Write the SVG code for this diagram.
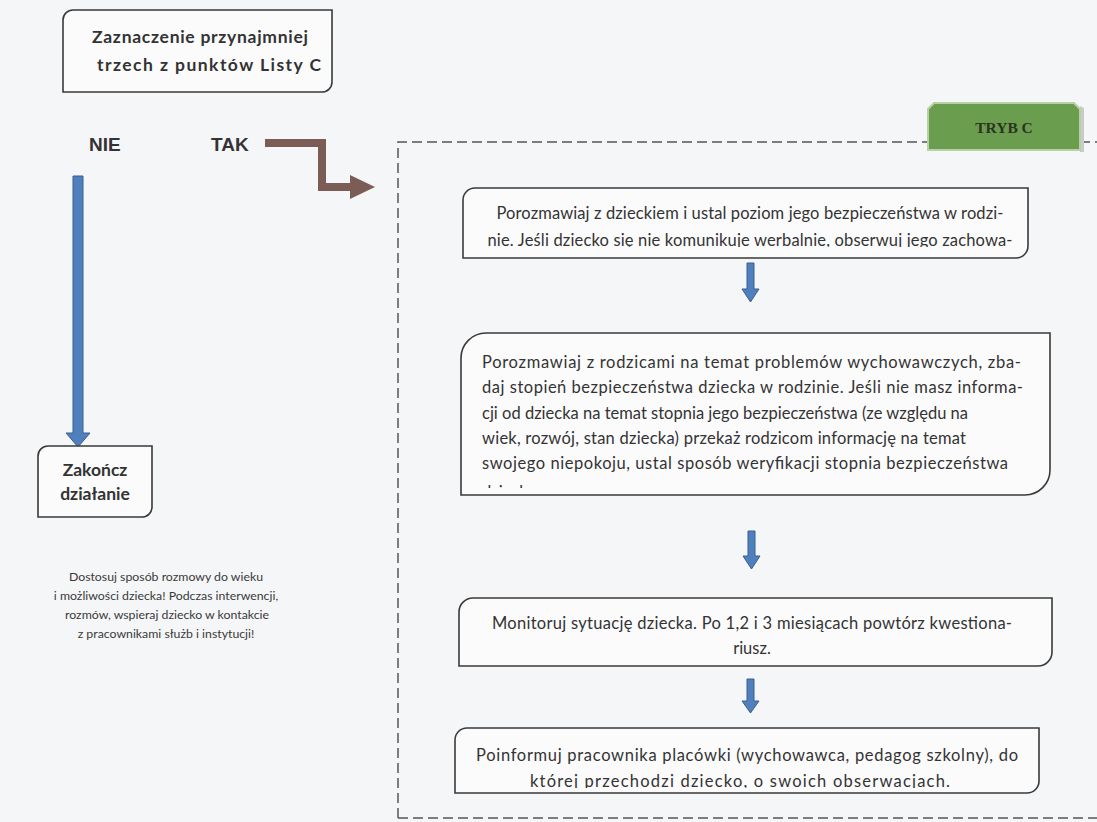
<svg xmlns="http://www.w3.org/2000/svg" width="1097" height="822" viewBox="0 0 1097 822">
<style>
.bg{fill:#f5f6f8}
.box{fill:#fbfbfc;stroke:#3a3a3a;stroke-width:1.6}
.t{font-family:Lato,"Open Sans","Liberation Sans",sans-serif;fill:#333;font-size:16.5px}
.tb{font-family:Lato,"Open Sans","Liberation Sans",sans-serif;fill:#333;font-size:17.5px;font-weight:bold}
.lbl{font-family:"Liberation Sans",Arial,sans-serif;fill:#333;font-size:19px;font-weight:bold}
.note{font-family:Lato,"Open Sans","Liberation Sans",sans-serif;fill:#3a3a3a;font-size:12.3px}
.dash{fill:none;stroke:#555;stroke-width:1.5;stroke-dasharray:10 5}
.blue{fill:#4f7fbd;stroke:#3b5f8e;stroke-width:1}
</style>
<defs>
<clipPath id="c1"><rect x="455" y="180" width="600" height="67"/></clipPath>
<clipPath id="c2"><rect x="455" y="330" width="600" height="158"/></clipPath>
<clipPath id="c4"><rect x="450" y="725" width="600" height="63"/></clipPath>
</defs>
<rect class="bg" x="0" y="0" width="1097" height="822"/>

<g id="tryb-frame">
<path class="dash" d="M398 818 V142 H928 M1080 142 H1097 M398 818 H1097"/>
</g>

<g id="tryb-c">
<path d="M932 152 H1084 V108 L1080 106 V152 Z" fill="#c9cbc8"/>
<path d="M934 103 H1074 L1080 109 V150 H928 V109 Z" fill="#6a9d4d" stroke="#b7d0a8" stroke-width="2"/>
<text x="1004" y="133" text-anchor="middle" font-family="'Liberation Serif','Times New Roman',serif" font-weight="bold" font-size="15.5" fill="#2a3423">TRYB C</text>
</g>

<g id="start">
<path class="box" d="M73 10 H332 V82 A10 10 0 0 1 322 92 H63 V20 A10 10 0 0 1 73 10 Z"/>
<text class="tb" x="200" y="43" text-anchor="middle" textLength="216">Zaznaczenie przynajmniej</text>
<text class="tb" x="209" y="71" text-anchor="middle" textLength="224">trzech z punktów Listy C</text>
</g>

<g id="labels">
<text class="lbl" x="89" y="151">NIE</text>
<text class="lbl" x="211" y="151">TAK</text>
</g>

<g id="connectors">
<path d="M265 143 H322 V187 H352" fill="none" stroke="#7b5d56" stroke-width="8"/>
<polygon points="350,175 375,187 350,199" fill="#7b5d56"/>
<path class="blue" d="M73 176 H83 V433 H90 L78 447 L66 433 H73 Z"/>
<path class="blue" d="M747 263 H754 V289 H759 L750.5 302 L742 289 H747 Z"/>
<path class="blue" d="M748 531 H755 V556 H760 L751.5 569 L743 556 H748 Z"/>
<path class="blue" d="M747 679 H754 V701 H759 L750.5 713 L742 701 H747 Z"/>
</g>

<g id="end">
<path class="box" d="M48 446 H152 V507 A10 10 0 0 1 142 517 H38 V456 A10 10 0 0 1 48 446 Z"/>
<text class="tb" x="95" y="476" text-anchor="middle" font-size="15">Zakończ</text>
<text class="tb" x="95" y="500" text-anchor="middle" font-size="15">działanie</text>
</g>

<g id="note">
<text class="note" x="166" y="581" text-anchor="middle">Dostosuj sposób rozmowy do wieku</text>
<text class="note" x="166" y="600" text-anchor="middle">i możliwości dziecka! Podczas interwencji,</text>
<text class="note" x="167" y="619" text-anchor="middle">rozmów, wspieraj dziecko w kontakcie</text>
<text class="note" x="166" y="638" text-anchor="middle">z pracownikami służb i instytucji!</text>
</g>

<g id="step1">
<path class="box" d="M475 188 H1028 V246 A12 12 0 0 1 1016 258 H463 V200 A12 12 0 0 1 475 188 Z"/>
<g clip-path="url(#c1)">
<text class="t" x="750" y="219" text-anchor="middle" textLength="507">Porozmawiaj z dzieckiem i ustal poziom jego bezpieczeństwa w rodzi-</text>
<text class="t" x="750" y="246" text-anchor="middle" textLength="525">nie. Jeśli dziecko się nie komunikuje werbalnie, obserwuj jego zachowa-</text>
</g>
</g>

<g id="step2">
<path class="box" d="M486 333 H1050 V470 A25 25 0 0 1 1025 495 H461 V358 A25 25 0 0 1 486 333 Z"/>
<g clip-path="url(#c2)">
<text class="t" x="482" y="368" textLength="539">Porozmawiaj z rodzicami na temat problemów wychowawczych, zba-</text>
<text class="t" x="482" y="393" textLength="541">daj stopień bezpieczeństwa dziecka w rodzinie. Jeśli nie masz informa-</text>
<text class="t" x="482" y="419" textLength="486">cji od dziecka na temat stopnia jego bezpieczeństwa (ze względu na</text>
<text class="t" x="482" y="444" textLength="484">wiek, rozwój, stan dziecka) przekaż rodzicom informację na temat</text>
<text class="t" x="482" y="469" textLength="526">swojego niepokoju, ustal sposób weryfikacji stopnia bezpieczeństwa</text>
<text class="t" x="482" y="498">dziecka.</text>
</g>
</g>

<g id="step3">
<path class="box" d="M473 598 H1052 V652 A14 14 0 0 1 1038 666 H459 V612 A14 14 0 0 1 473 598 Z"/>
<text class="t" x="752" y="629" text-anchor="middle" textLength="520">Monitoruj sytuację dziecka. Po 1,2 i 3 miesiącach powtórz kwestiona-</text>
<text class="t" x="752" y="654" text-anchor="middle">riusz.</text>
</g>

<g id="step4">
<path class="box" d="M467 728 H1039 V781 A12 12 0 0 1 1027 793 H455 V740 A12 12 0 0 1 467 728 Z"/>
<g clip-path="url(#c4)">
<text class="t" x="747" y="761" text-anchor="middle" textLength="542">Poinformuj pracownika placówki (wychowawca, pedagog szkolny), do</text>
<text class="t" x="740" y="787" text-anchor="middle" textLength="420">której przechodzi dziecko, o swoich obserwacjach.</text>
</g>
</g>
</svg>
